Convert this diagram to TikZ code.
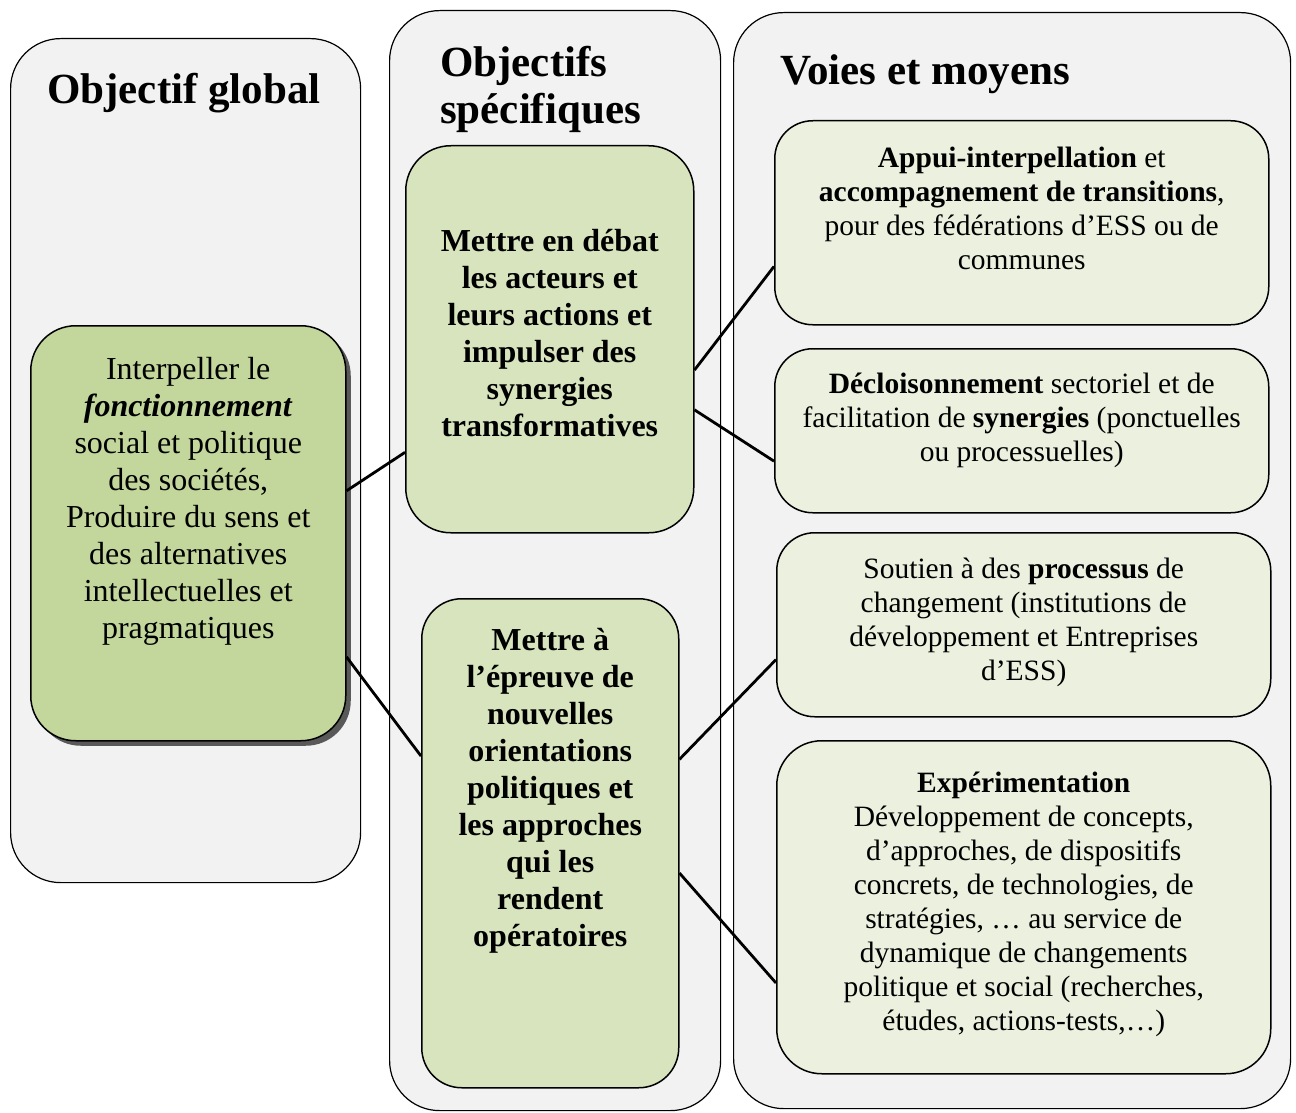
\documentclass[tikz,border=0pt]{standalone}
\usepackage{fontspec}
\setmainfont{Liberation Serif}
\usetikzlibrary{shadows}

\definecolor{colgray}{HTML}{F2F2F2}
\definecolor{greendark}{HTML}{C3D69B}
\definecolor{greenmid}{HTML}{D7E4BD}
\definecolor{greenlight}{HTML}{EBF1DE}

% text block of a box: width, height, top padding, lines
\newcommand{\cellbox}[4]{\parbox[t][#2][t]{#1}{\centering\vspace*{#3}#4}}

\begin{document}
\begin{tikzpicture}[x=1pt,y=-1pt,
		colbox/.style={
			draw,
			line width=1.2pt,
			fill=colgray,
			rounded corners=50pt,
			anchor=north west,
			inner sep=0pt
		},
		coltitle/.style={
			font=\fontsize{43}{47}\selectfont\bfseries,
			anchor=base west,
			align=left,
			inner sep=0pt
		},
		globalbox/.style={
			draw,
			line width=1.5pt,
			fill=greendark,
			rounded corners=45pt,
			anchor=north west,
			inner sep=0pt,
			font=\fontsize{32}{37}\selectfont,
			drop shadow={shadow xshift=5pt,shadow yshift=-5pt,fill=black!65,opacity=1}
		},
		specbox/.style={
			draw,
			line width=1.5pt,
			fill=greenmid,
			rounded corners=45pt,
			anchor=north west,
			inner sep=0pt,
			font=\fontsize{32}{37}\selectfont\bfseries
		},
		waybox/.style={
			draw,
			line width=1.5pt,
			fill=greenlight,
			rounded corners=38pt,
			anchor=north west,
			inner sep=0pt,
			font=\fontsize{29.5}{34}\selectfont
		},
		link/.style={
			line width=2.8pt
		}
		]
		\useasboundingbox (0,0) rectangle (1296,1113);
		% Columns
		\node[colbox,minimum width=350pt,minimum height=844pt] (colglobal) at (10,38) {};
		\node[colbox,minimum width=331pt,minimum height=1100pt] (colspec) at (389,10) {};
		\node[colbox,minimum width=557pt,minimum height=1096pt] (colway) at (733,12) {};
		\node[coltitle] (tglobal) at (47,104) {Objectif global};
		\node[coltitle,anchor=north west] (tspec) at (440,46) {Objectifs\\spécifiques};
		\node[coltitle] (tway) at (780,85) {Voies et moyens};
		% Global objective
		\node[globalbox] (global) at (30,325) {\cellbox{315pt}{415pt}{32pt}{%
			Interpeller le\\ \textbf{\textit{fonctionnement}}\\ social et politique\\ des sociétés,\\
			Produire du sens et\\ des alternatives\\ intellectuelles et\\ pragmatiques}};
		% Specific objectives
		\node[specbox] (spec1) at (405,145) {\cellbox{288pt}{387pt}{84pt}{%
			Mettre en débat\\ les acteurs et\\ leurs actions et\\ impulser des\\ synergies\\ transformatives}};
		\node[specbox,rounded corners=40pt] (spec2) at (421,598) {\cellbox{257pt}{489pt}{30pt}{%
			Mettre à\\ l’épreuve de\\ nouvelles\\ orientations\\ politiques et\\ les approches\\ qui les\\ rendent\\ opératoires}};
		% Ways and means
		\node[waybox] (way1) at (774,120) {\cellbox{494pt}{204pt}{26pt}{%
			\textbf{Appui-interpellation} et\\ \textbf{accompagnement de transitions},\\ pour des fédérations d’ESS ou de\\ communes}};
		\node[waybox] (way2) at (774,348) {\cellbox{494pt}{164pt}{24pt}{%
			\textbf{Décloisonnement} sectoriel et de\\ facilitation de \textbf{synergies} (ponctuelles\\ ou processuelles)}};
		\node[waybox] (way3) at (776,532) {\cellbox{494pt}{184pt}{25pt}{%
			Soutien à des \textbf{processus} de\\ changement (institutions de\\ développement et Entreprises\\ d’ESS)}};
		\node[waybox,rounded corners=45pt] (way4) at (776,740) {\cellbox{494pt}{333pt}{31pt}{%
			\textbf{Expérimentation}\\ Développement de concepts,\\ d’approches, de dispositifs\\ concrets, de technologies, de\\
			stratégies, … au service de\\ dynamique de changements\\ politique et social (recherches,\\ études, actions-tests,…)}};
		% Global -> Specific
		\draw[link] (global.15) -- (spec1.218);
		\draw[link] (global.322) -- (spec2.146);
		% Specific -> Ways
		\draw[link] (spec1.348) -- (way1.190);
		\draw[link] (spec1.334) -- (way2.187);
		\draw[link] (spec2.33) -- (way3.188);
		\draw[link] (spec2.347) -- (way4.197);
\end{tikzpicture}
\end{document}
